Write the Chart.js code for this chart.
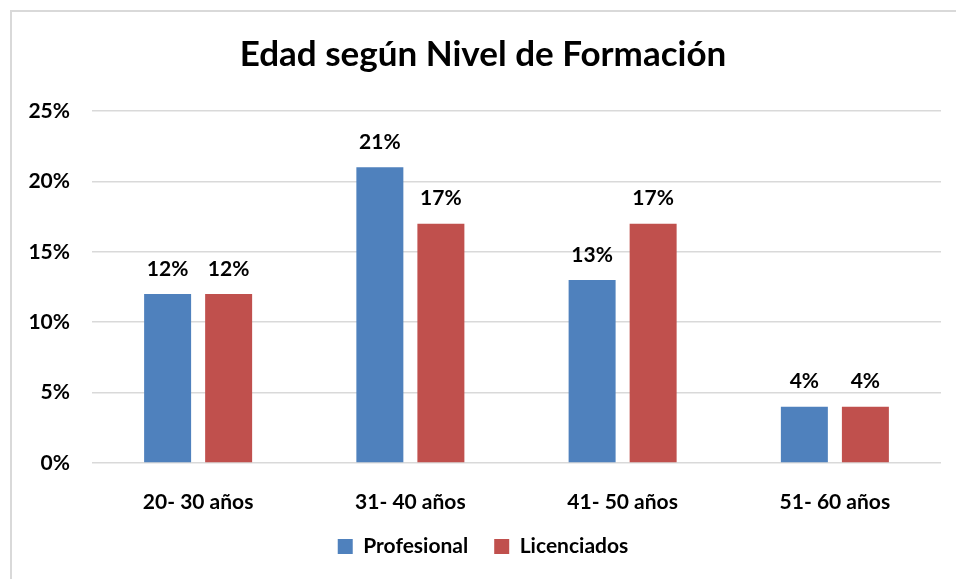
<!DOCTYPE html>
<html>
<head>
<meta charset="utf-8">
<script src="https://cdn.jsdelivr.net/npm/chart.js@4/dist/chart.umd.min.js"></script>
<style>
  html, body { margin: 0; padding: 0; background: #fff; }
  #wrap { position: relative; width: 956px; height: 579px; }
  #marco { position: absolute; left: 10px; top: 10px; right: -4px; bottom: -4px;
           border-left: 2px solid #d9d9d9; border-top: 2px solid #d9d9d9; }
  canvas { position: absolute; left: 0; top: 0; }
</style>
</head>
<body>
<div id="wrap">
  <div id="marco"></div>
  <canvas id="grafico" width="956" height="579"></canvas>
</div>
<script>
const categorias = ['20- 30 años', '31- 40 años', '41- 50 años', '51- 60 años'];
const profesional = [12, 21, 13, 4];
const licenciados = [12, 17, 17, 4];
const ticksY = [0, 5, 10, 15, 20, 25];

const fuente = 'Lato, Calibri, Carlito, sans-serif';

// etiquetas de valor encima de cada barra
const etiquetas = {
    id: 'etiquetas',
    afterDatasetsDraw(chart) {
        const ctx = chart.ctx;
        ctx.save();
        ctx.font = 'bold 21px ' + fuente;
        ctx.fillStyle = '#000';
        ctx.textAlign = 'center';
        ctx.textBaseline = 'middle';
        chart.data.datasets.forEach((ds, i) => {
            chart.getDatasetMeta(i).data.forEach((bar, j) => {
                ctx.fillText(ds.data[j] + '%', bar.x, bar.y - 25);
            });
        });
        ctx.restore();
    }
};

new Chart(document.getElementById('grafico').getContext('2d'), {
    type: 'bar',
    data: {
        labels: categorias,
        datasets: [
            { label: 'Profesional', data: profesional, backgroundColor: '#4F81BD' },
            { label: 'Licenciados', data: licenciados, backgroundColor: '#C0504D' }
        ]
    },
    options: {
        responsive: false,
        animation: false,
        categoryPercentage: 0.575,
        barPercentage: 0.77,
        layout: { padding: { left: 25, right: 15, top: 20, bottom: 12 } },
        scales: {
            x: {
                grid: { display: false },
                border: { display: false },
                ticks: { color: '#000', padding: 19, font: { family: fuente, size: 21, weight: 'bold' } },
                afterFit: (s) => { s.height = 47; }
            },
            y: {
                min: 0,
                max: 25,
                afterBuildTicks: (s) => { s.ticks = ticksY.map(v => ({ value: v })); },
                grid: { color: '#d9d9d9', lineWidth: 1.5, drawTicks: false },
                border: { display: false },
                ticks: {
                    color: '#000', padding: 22,
                    font: { family: fuente, size: 21, weight: 'bold' },
                    callback: (v) => v + '%'
                },
                afterFit: (s) => { s.width = 67; }
            }
        },
        plugins: {
            title: {
                display: true,
                text: 'Edad según Nivel de Formación',
                color: '#000',
                font: { family: fuente, size: 35, weight: 'bold' },
                padding: { top: 14, bottom: 35 }
            },
            legend: {
                position: 'bottom',
                labels: {
                    color: '#000',
                    boxWidth: 15,
                    boxHeight: 15,
                    padding: 26,
                    font: { family: fuente, size: 21, weight: 'bold' }
                }
            },
            tooltip: { enabled: false }
        }
    },
    plugins: [etiquetas]
});
</script>
</body>
</html>
